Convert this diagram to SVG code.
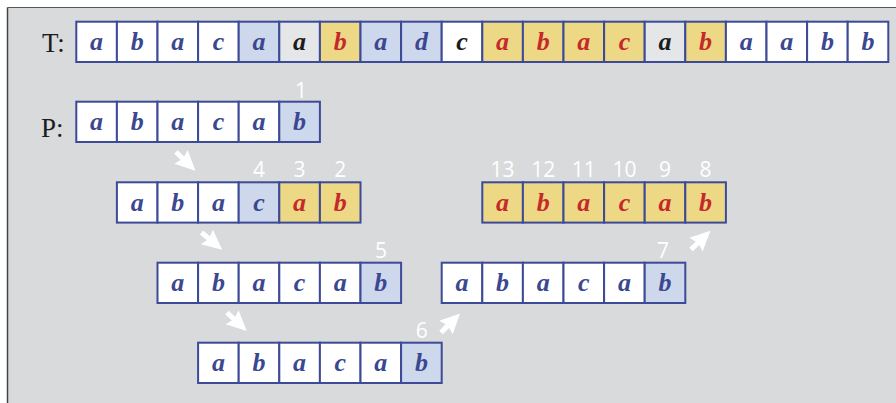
<svg xmlns="http://www.w3.org/2000/svg" width="896" height="403" viewBox="0 0 896 403">
<defs>
<style>
.c{stroke:#3c4a98;stroke-width:2}
.w{fill:#ffffff}.b{fill:#cdd8ec}.y{fill:#ecd885}.g{fill:#e5e6e8}
.t{font-family:"Liberation Serif","DejaVu Serif",serif;font-weight:bold;font-style:italic;font-size:26px;text-anchor:middle}
.tb{fill:#3b4790}.tr{fill:#c6292a}.tk{fill:#1c1c1c}
.lab{font-family:"Liberation Serif","DejaVu Serif",serif;font-size:27px;fill:#1c1c1c}
.n{font-family:"Open Sans","Liberation Sans",sans-serif;font-size:21px;fill:#ffffff;text-anchor:middle}
</style>
<path id="arr" d="M0,-2.5 L9,-2.5 L7,-9.5 L27,0 L7,9.5 L9,2.5 L0,2.5 Z" fill="#ffffff"/>
</defs>
<rect x="0" y="0" width="896" height="403" fill="#ffffff"/>
<rect x="8" y="8" width="888" height="395" fill="#d9dadc"/>
<line x1="7.5" y1="7.5" x2="896" y2="7.5" stroke="#555" stroke-width="1.2"/>
<line x1="7.5" y1="7.5" x2="7.5" y2="403" stroke="#444" stroke-width="1.5"/>

<text class="lab" x="42" y="51.5">T:</text>
<text class="lab" x="41" y="136.5">P:</text>

<g id="T">
<rect class="c w" x="76.3" y="21.7" width="40.6" height="40.3"/><text class="t tb" x="96.6" y="50">a</text>
<rect class="c w" x="116.9" y="21.7" width="40.6" height="40.3"/><text class="t tb" x="137.2" y="50">b</text>
<rect class="c w" x="157.5" y="21.7" width="40.6" height="40.3"/><text class="t tb" x="177.8" y="50">a</text>
<rect class="c w" x="198.1" y="21.7" width="40.6" height="40.3"/><text class="t tb" x="218.4" y="50">c</text>
<rect class="c b" x="238.7" y="21.7" width="40.6" height="40.3"/><text class="t tb" x="259" y="50">a</text>
<rect class="c g" x="279.3" y="21.7" width="40.6" height="40.3"/><text class="t tk" x="299.6" y="50">a</text>
<rect class="c y" x="319.9" y="21.7" width="40.6" height="40.3"/><text class="t tr" x="340.2" y="50">b</text>
<rect class="c b" x="360.5" y="21.7" width="40.6" height="40.3"/><text class="t tb" x="380.8" y="50">a</text>
<rect class="c b" x="401.1" y="21.7" width="40.6" height="40.3"/><text class="t tb" x="421.4" y="50">d</text>
<rect class="c w" x="441.7" y="21.7" width="40.6" height="40.3"/><text class="t tk" x="462" y="50">c</text>
<rect class="c y" x="482.3" y="21.7" width="40.6" height="40.3"/><text class="t tr" x="502.6" y="50">a</text>
<rect class="c y" x="522.9" y="21.7" width="40.6" height="40.3"/><text class="t tr" x="543.2" y="50">b</text>
<rect class="c y" x="563.5" y="21.7" width="40.6" height="40.3"/><text class="t tr" x="583.8" y="50">a</text>
<rect class="c y" x="604.1" y="21.7" width="40.6" height="40.3"/><text class="t tr" x="624.4" y="50">c</text>
<rect class="c g" x="644.7" y="21.7" width="40.6" height="40.3"/><text class="t tk" x="665" y="50">a</text>
<rect class="c y" x="685.3" y="21.7" width="40.6" height="40.3"/><text class="t tr" x="705.6" y="50">b</text>
<rect class="c w" x="725.9" y="21.7" width="40.6" height="40.3"/><text class="t tb" x="746.2" y="50">a</text>
<rect class="c w" x="766.5" y="21.7" width="40.6" height="40.3"/><text class="t tb" x="786.8" y="50">a</text>
<rect class="c w" x="807.1" y="21.7" width="40.6" height="40.3"/><text class="t tb" x="827.4" y="50">b</text>
<rect class="c w" x="847.7" y="21.7" width="40.6" height="40.3"/><text class="t tb" x="868" y="50">b</text>
</g>

<g id="P">
<rect class="c w" x="76.3" y="101.7" width="40.6" height="40.3"/><text class="t tb" x="96.6" y="130">a</text>
<rect class="c w" x="116.9" y="101.7" width="40.6" height="40.3"/><text class="t tb" x="137.2" y="130">b</text>
<rect class="c w" x="157.5" y="101.7" width="40.6" height="40.3"/><text class="t tb" x="177.8" y="130">a</text>
<rect class="c w" x="198.1" y="101.7" width="40.6" height="40.3"/><text class="t tb" x="218.4" y="130">c</text>
<rect class="c w" x="238.7" y="101.7" width="40.6" height="40.3"/><text class="t tb" x="259" y="130">a</text>
<rect class="c b" x="279.3" y="101.7" width="40.6" height="40.3"/><text class="t tb" x="299.6" y="130">b</text>
<text class="n" x="301" y="97.5">1</text>
</g>

<g id="row2left">
<rect class="c w" x="116.9" y="182.3" width="40.6" height="40.3"/><text class="t tb" x="137.2" y="210.6">a</text>
<rect class="c w" x="157.5" y="182.3" width="40.6" height="40.3"/><text class="t tb" x="177.8" y="210.6">b</text>
<rect class="c w" x="198.1" y="182.3" width="40.6" height="40.3"/><text class="t tb" x="218.4" y="210.6">a</text>
<rect class="c b" x="238.7" y="182.3" width="40.6" height="40.3"/><text class="t tb" x="259" y="210.6">c</text>
<rect class="c y" x="279.3" y="182.3" width="40.6" height="40.3"/><text class="t tr" x="299.6" y="210.6">a</text>
<rect class="c y" x="319.9" y="182.3" width="40.6" height="40.3"/><text class="t tr" x="340.2" y="210.6">b</text>
<text class="n" x="259" y="177">4</text>
<text class="n" x="299.6" y="177">3</text>
<text class="n" x="340.2" y="177">2</text>
</g>

<g id="row2right">
<rect class="c y" x="482.3" y="182.3" width="40.6" height="40.3"/><text class="t tr" x="502.6" y="210.6">a</text>
<rect class="c y" x="522.9" y="182.3" width="40.6" height="40.3"/><text class="t tr" x="543.2" y="210.6">b</text>
<rect class="c y" x="563.5" y="182.3" width="40.6" height="40.3"/><text class="t tr" x="583.8" y="210.6">a</text>
<rect class="c y" x="604.1" y="182.3" width="40.6" height="40.3"/><text class="t tr" x="624.4" y="210.6">c</text>
<rect class="c y" x="644.7" y="182.3" width="40.6" height="40.3"/><text class="t tr" x="665" y="210.6">a</text>
<rect class="c y" x="685.3" y="182.3" width="40.6" height="40.3"/><text class="t tr" x="705.6" y="210.6">b</text>
<text class="n" x="502.6" y="177">13</text>
<text class="n" x="543.2" y="177">12</text>
<text class="n" x="583.8" y="177">11</text>
<text class="n" x="624.4" y="177">10</text>
<text class="n" x="665" y="177">9</text>
<text class="n" x="705.6" y="177">8</text>
</g>

<g id="row3left">
<rect class="c w" x="157.5" y="262.7" width="40.6" height="40.3"/><text class="t tb" x="177.8" y="291">a</text>
<rect class="c w" x="198.1" y="262.7" width="40.6" height="40.3"/><text class="t tb" x="218.4" y="291">b</text>
<rect class="c w" x="238.7" y="262.7" width="40.6" height="40.3"/><text class="t tb" x="259" y="291">a</text>
<rect class="c w" x="279.3" y="262.7" width="40.6" height="40.3"/><text class="t tb" x="299.6" y="291">c</text>
<rect class="c w" x="319.9" y="262.7" width="40.6" height="40.3"/><text class="t tb" x="340.2" y="291">a</text>
<rect class="c b" x="360.5" y="262.7" width="40.6" height="40.3"/><text class="t tb" x="380.8" y="291">b</text>
<text class="n" x="381" y="257.5">5</text>
</g>

<g id="row3right">
<rect class="c w" x="441.7" y="262.7" width="40.6" height="40.3"/><text class="t tb" x="462" y="291">a</text>
<rect class="c w" x="482.3" y="262.7" width="40.6" height="40.3"/><text class="t tb" x="502.6" y="291">b</text>
<rect class="c w" x="522.9" y="262.7" width="40.6" height="40.3"/><text class="t tb" x="543.2" y="291">a</text>
<rect class="c w" x="563.5" y="262.7" width="40.6" height="40.3"/><text class="t tb" x="583.8" y="291">c</text>
<rect class="c w" x="604.1" y="262.7" width="40.6" height="40.3"/><text class="t tb" x="624.4" y="291">a</text>
<rect class="c b" x="644.7" y="262.7" width="40.6" height="40.3"/><text class="t tb" x="665" y="291">b</text>
<text class="n" x="663" y="257.5">7</text>
</g>

<g id="row4">
<rect class="c w" x="198.1" y="342.7" width="40.6" height="40.3"/><text class="t tb" x="218.4" y="371">a</text>
<rect class="c w" x="238.7" y="342.7" width="40.6" height="40.3"/><text class="t tb" x="259" y="371">b</text>
<rect class="c w" x="279.3" y="342.7" width="40.6" height="40.3"/><text class="t tb" x="299.6" y="371">a</text>
<rect class="c w" x="319.9" y="342.7" width="40.6" height="40.3"/><text class="t tb" x="340.2" y="371">c</text>
<rect class="c w" x="360.5" y="342.7" width="40.6" height="40.3"/><text class="t tb" x="380.8" y="371">a</text>
<rect class="c b" x="401.1" y="342.7" width="40.6" height="40.3"/><text class="t tb" x="421.4" y="371">b</text>
<text class="n" x="421.7" y="337.5">6</text>
</g>

<g id="connectors">
<use href="#arr" transform="translate(176,152) rotate(44)"/>
<use href="#arr" transform="translate(201.5,232.5) rotate(40)"/>
<use href="#arr" transform="translate(227,312.5) rotate(43)"/>
<use href="#arr" transform="translate(441,332.5) rotate(-45)"/>
<use href="#arr" transform="translate(691,249.5) rotate(-44)"/>
</g>
</svg>
